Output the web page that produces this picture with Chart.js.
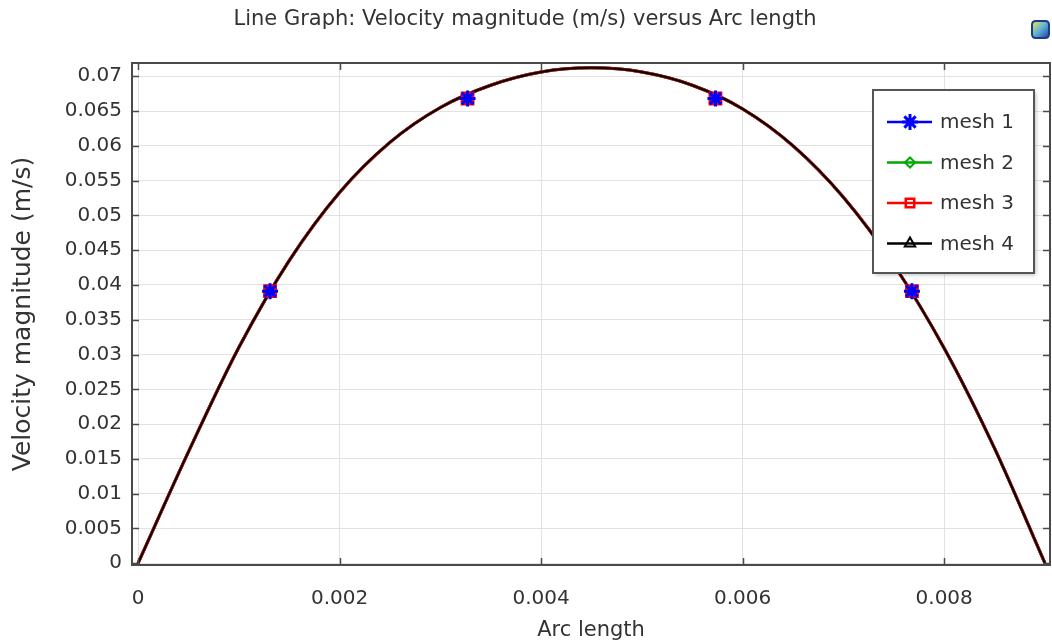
<!DOCTYPE html>
<html>
<head>
<meta charset="utf-8">
<script src="https://cdn.jsdelivr.net/npm/chart.js@4.4.1/dist/chart.umd.min.js"></script>
<style>
html,body{margin:0;padding:0;background:#fff;overflow:hidden;}
#wrap{width:1052px;height:644px;position:relative;}
</style>
</head>
<body>
<div id="wrap"><canvas id="c" width="1052" height="644"></canvas></div>
<script>
// ---------- data ----------
const chartTitle = 'Line Graph: Velocity magnitude (m/s) versus Arc length';
const xAxisTitle = 'Arc length';
const yAxisTitle = 'Velocity magnitude (m/s)';
const meshNames = ['mesh 1', 'mesh 2', 'mesh 3', 'mesh 4'];
const meshColors = ['#0000ff', '#00a800', '#ff0000', '#000000'];
const meshMarkers = ['star', 'rectRot', 'rect', 'triangle'];

// curve (all four meshes coincide in the picture)
const arcLength = [0, 0.0005, 0.001, 0.0015, 0.002, 0.0025, 0.003, 0.0035, 0.004, 0.0045,
  0.005, 0.0055, 0.006, 0.0065, 0.007, 0.0075, 0.008, 0.0085, 0.009];
const velocity = [0, 0.0160, 0.0310, 0.0435, 0.0533, 0.0605, 0.0655, 0.0687, 0.0706, 0.0712,
  0.0706, 0.0687, 0.0653, 0.0600, 0.0526, 0.0429, 0.0309, 0.0165, 0];

// marker positions
const markerArc = [0.00131, 0.00327, 0.00573, 0.00768];
const markerVelocity = [0.0391, 0.0668, 0.0668, 0.0391];

const xTickValues = [0, 0.002, 0.004, 0.006, 0.008];
const xTickLabels = ['0', '0.002', '0.004', '0.006', '0.008'];
const yTickValues = [0, 0.005, 0.01, 0.015, 0.02, 0.025, 0.03, 0.035, 0.04, 0.045, 0.05, 0.055, 0.06, 0.065, 0.07];
const yTickLabels = ['0', '0.005', '0.01', '0.015', '0.02', '0.025', '0.03', '0.035', '0.04', '0.045', '0.05', '0.055', '0.06', '0.065', '0.07'];

// ---------- styling ----------
const FONT = "'DejaVu Sans', 'Noto Sans', sans-serif";
const TEXT = '#333333';
const markerRadius = [8, 5, 8, 6];
const markerWidth = [3, 2, 2.5, 2];
const markerOrder = [0, 2, 1, 3];   // star on top, then square, diamond, triangle

const datasets = [];
meshNames.forEach((name, i) => {
  datasets.push({
    label: name,
    data: arcLength.map((x, k) => ({x: x, y: velocity[k]})),
    borderColor: meshColors[i],
    borderWidth: i === 3 ? 2 : 3,
    pointRadius: 0,
    cubicInterpolationMode: 'monotone',
    fill: false,
    order: 13 - i
  });
});
meshNames.forEach((name, i) => {
  datasets.push({
    label: name + ' markers',
    data: markerArc.map((x, k) => ({x: x, y: markerVelocity[k]})),
    showLine: false,
    pointStyle: meshMarkers[i],
    pointRadius: markerRadius[i],
    pointBorderWidth: markerWidth[i],
    pointBorderColor: meshColors[i],
    pointBackgroundColor: 'rgba(0,0,0,0)',
    order: markerOrder[i]
  });
});

function drawMarker(ctx, style, x, y, r, color, lw) {
  ctx.save();
  ctx.strokeStyle = color;
  ctx.fillStyle = 'rgba(0,0,0,0)';
  ctx.lineWidth = lw;
  if (Chart.helpers && Chart.helpers.drawPoint) {
    Chart.helpers.drawPoint(ctx, {pointStyle: style, rotation: 0, radius: r, borderWidth: lw}, x, y);
  }
  ctx.restore();
}

const framePlugin = {
  id: 'frame',
  afterDatasetsDraw(chart) {
    const {ctx, chartArea: a, scales} = chart;
    const x = scales.x, y = scales.y;
    ctx.save();
    ctx.strokeStyle = '#4a4a4a';
    ctx.lineWidth = 2;
    ctx.strokeRect(a.left, a.top, a.right - a.left, a.bottom - a.top);
    ctx.lineWidth = 1.5;
    const L = 7;
    ctx.beginPath();
    xTickValues.forEach(v => {
      const px = Math.round(x.getPixelForValue(v)) + 0.5;
      ctx.moveTo(px, a.bottom); ctx.lineTo(px, a.bottom - L);
      ctx.moveTo(px, a.top); ctx.lineTo(px, a.top + L);
    });
    yTickValues.forEach(v => {
      const py = Math.round(y.getPixelForValue(v)) + 0.5;
      ctx.moveTo(a.left, py); ctx.lineTo(a.left + L, py);
      ctx.moveTo(a.right, py); ctx.lineTo(a.right - L, py);
    });
    ctx.stroke();
    ctx.restore();
  }
};

const legendPlugin = {
  id: 'boxLegend',
  afterDraw(chart) {
    const ctx = chart.ctx;
    const bx = 873, by = 90, bw = 161, bh = 183;
    ctx.save();
    ctx.shadowColor = 'rgba(0,0,0,0.25)';
    ctx.shadowBlur = 4;
    ctx.shadowOffsetX = 2;
    ctx.shadowOffsetY = 2;
    ctx.fillStyle = '#ffffff';
    ctx.fillRect(bx, by, bw, bh);
    ctx.restore();
    ctx.save();
    ctx.strokeStyle = '#555555';
    ctx.lineWidth = 2;
    ctx.strokeRect(bx, by, bw, bh);
    ctx.font = '20px ' + FONT;
    ctx.textBaseline = 'middle';
    ctx.textAlign = 'left';
    meshNames.forEach((name, i) => {
      const yy = by + 32 + i * 40.5;
      ctx.strokeStyle = meshColors[i];
      ctx.lineWidth = 2.5;
      ctx.beginPath();
      ctx.moveTo(887, yy); ctx.lineTo(932, yy);
      ctx.stroke();
      drawMarker(ctx, meshMarkers[i], 910, yy, i === 2 ? 6 : markerRadius[i], meshColors[i], markerWidth[i]);
      ctx.fillStyle = TEXT;
      ctx.fillText(name, 940, yy + 1);
    });
    ctx.restore();
  }
};

const iconPlugin = {
  id: 'icon',
  afterDraw(chart) {
    const ctx = chart.ctx;
    const x = 1032, y = 21, s = 17, r = 4;
    ctx.save();
    const g = ctx.createLinearGradient(x, y, x + s, y + s);
    g.addColorStop(0, '#f6e94a');
    g.addColorStop(0.5, '#5fb0d8');
    g.addColorStop(1, '#1b3f9a');
    ctx.fillStyle = g;
    ctx.strokeStyle = '#1d3a8a';
    ctx.lineWidth = 2;
    ctx.beginPath();
    ctx.moveTo(x + r, y); ctx.lineTo(x + s - r, y); ctx.quadraticCurveTo(x + s, y, x + s, y + r);
    ctx.lineTo(x + s, y + s - r); ctx.quadraticCurveTo(x + s, y + s, x + s - r, y + s);
    ctx.lineTo(x + r, y + s); ctx.quadraticCurveTo(x, y + s, x, y + s - r);
    ctx.lineTo(x, y + r); ctx.quadraticCurveTo(x, y, x + r, y);
    ctx.closePath();
    ctx.fill();
    ctx.stroke();
    ctx.restore();
  }
};

new Chart(document.getElementById('c'), {
  type: 'line',
  data: {datasets: datasets},
  plugins: [framePlugin, legendPlugin, iconPlugin],
  options: {
    responsive: false,
    animation: false,
    devicePixelRatio: 1,
    layout: {autoPadding: false, padding: {top: 0, right: 2, bottom: 0, left: 0}},
    plugins: {
      legend: {display: false},
      tooltip: {enabled: false},
      title: {
        display: true,
        text: chartTitle,
        color: TEXT,
        font: {family: FONT, size: 21, weight: 'normal'},
        padding: {top: 7, bottom: 30.8}
      }
    },
    scales: {
      x: {
        type: 'linear',
        min: -0.00006,
        max: 0.00905,
        afterBuildTicks: s => { s.ticks = xTickValues.map(v => ({value: v})); },
        afterFit: s => { s.height = 79; s.paddingLeft = 0; s.paddingRight = 0; },
        ticks: {
          color: TEXT,
          font: {family: FONT, size: 20},
          padding: 22,
          maxRotation: 0,
          callback: (v, i) => xTickLabels[i]
        },
        grid: {color: '#e2e2e2', lineWidth: 1, drawTicks: false},
        border: {display: false},
        title: {
          display: true,
          text: xAxisTitle,
          color: TEXT,
          font: {family: FONT, size: 21},
          padding: {top: 0, bottom: 1}
        }
      },
      y: {
        type: 'linear',
        min: -0.00025,
        max: 0.0719,
        afterBuildTicks: s => { s.ticks = yTickValues.map(v => ({value: v})); },
        afterFit: s => { s.width = 132; },
        ticks: {
          color: TEXT,
          font: {family: FONT, size: 20},
          padding: 10,
          callback: (v, i) => yTickLabels[i]
        },
        grid: {color: '#e2e2e2', lineWidth: 1, drawTicks: false},
        border: {display: false},
        title: {
          display: true,
          text: yAxisTitle,
          color: TEXT,
          font: {family: FONT, size: 25},
          padding: {top: 8, bottom: 0}
        }
      }
    }
  }
});
</script>
</body>
</html>
